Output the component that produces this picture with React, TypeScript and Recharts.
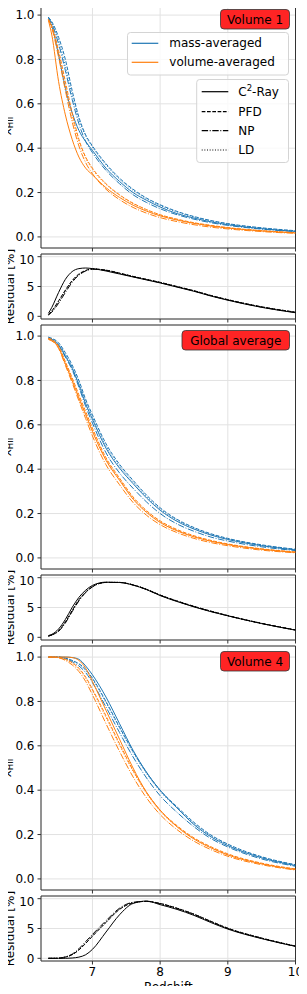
import { CartesianGrid, Line, LineChart, ReferenceArea, XAxis, YAxis } from "recharts";

// sampled redshifts shared by every curve
const redshift = [6.35, 6.4, 6.5, 6.6, 6.7, 6.8, 6.9, 7.0, 7.2, 7.4, 7.6, 7.8, 8.0, 8.25, 8.5, 8.75, 9.0, 9.5, 10.0];

// Volume 1
const v1MassC2 = [0.985, 0.95, 0.82, 0.67, 0.56, 0.48, 0.43, 0.39, 0.31, 0.25, 0.2, 0.165, 0.135, 0.105, 0.085, 0.068, 0.055, 0.037, 0.025];
const v1MassPFD = [0.99, 0.97, 0.9, 0.8, 0.66, 0.54, 0.46, 0.41, 0.33, 0.265, 0.215, 0.175, 0.145, 0.115, 0.092, 0.074, 0.06, 0.041, 0.028];
const v1MassNP = [0.99, 0.96, 0.87, 0.75, 0.62, 0.51, 0.43, 0.38, 0.3, 0.24, 0.19, 0.155, 0.127, 0.1, 0.08, 0.064, 0.052, 0.035, 0.024];
const v1MassLD = [0.99, 0.965, 0.885, 0.77, 0.64, 0.53, 0.455, 0.405, 0.325, 0.26, 0.21, 0.172, 0.142, 0.112, 0.09, 0.072, 0.059, 0.04, 0.027];
const v1VolC2 = [0.975, 0.91, 0.7, 0.55, 0.44, 0.36, 0.31, 0.28, 0.222, 0.178, 0.143, 0.116, 0.095, 0.076, 0.061, 0.049, 0.04, 0.027, 0.018];
const v1VolPFD = [0.98, 0.95, 0.84, 0.7, 0.56, 0.44, 0.36, 0.31, 0.24, 0.19, 0.152, 0.123, 0.1, 0.08, 0.064, 0.052, 0.042, 0.028, 0.019];
const v1VolNP = [0.98, 0.94, 0.81, 0.66, 0.52, 0.41, 0.335, 0.285, 0.215, 0.168, 0.133, 0.107, 0.087, 0.069, 0.055, 0.044, 0.036, 0.024, 0.016];
const v1VolLD = [0.98, 0.945, 0.83, 0.68, 0.54, 0.43, 0.355, 0.305, 0.237, 0.188, 0.15, 0.122, 0.099, 0.079, 0.063, 0.051, 0.041, 0.028, 0.019];
const r1C2 = [0.5, 1.5, 4.0, 6.2, 7.5, 8.0, 8.1, 8.0, 7.6, 7.1, 6.6, 6.1, 5.6, 4.9, 4.2, 3.4, 2.7, 1.5, 0.6];
const r1PFD = [0.3, 0.9, 2.6, 4.4, 6.0, 7.1, 7.7, 7.95, 7.75, 7.25, 6.7, 6.2, 5.7, 5.0, 4.3, 3.5, 2.8, 1.6, 0.7];
const r1NP = [0.2, 0.7, 2.2, 4.0, 5.7, 6.9, 7.6, 7.9, 7.7, 7.2, 6.65, 6.15, 5.65, 4.95, 4.25, 3.45, 2.75, 1.55, 0.65];
const r1LD = [0.3, 0.9, 2.5, 4.3, 5.9, 7.0, 7.65, 7.95, 7.72, 7.22, 6.68, 6.18, 5.68, 4.98, 4.28, 3.48, 2.78, 1.58, 0.68];

// Global average
const v2MassC2 = [0.99, 0.985, 0.96, 0.91, 0.855, 0.78, 0.695, 0.625, 0.495, 0.405, 0.335, 0.27, 0.215, 0.165, 0.13, 0.103, 0.083, 0.055, 0.036];
const v2MassPFD = [0.995, 0.99, 0.97, 0.925, 0.87, 0.8, 0.715, 0.645, 0.515, 0.422, 0.35, 0.283, 0.226, 0.174, 0.137, 0.109, 0.088, 0.059, 0.039];
const v2MassNP = [0.99, 0.984, 0.958, 0.905, 0.848, 0.77, 0.683, 0.608, 0.474, 0.383, 0.314, 0.252, 0.2, 0.153, 0.12, 0.094, 0.076, 0.05, 0.033];
const v2MassLD = [0.995, 0.988, 0.965, 0.918, 0.862, 0.79, 0.705, 0.635, 0.505, 0.414, 0.343, 0.277, 0.221, 0.17, 0.134, 0.106, 0.086, 0.057, 0.038];
const v2VolC2 = [0.985, 0.98, 0.948, 0.875, 0.8, 0.72, 0.645, 0.57, 0.44, 0.35, 0.265, 0.205, 0.16, 0.122, 0.095, 0.075, 0.06, 0.039, 0.025];
const v2VolPFD = [0.99, 0.985, 0.955, 0.885, 0.812, 0.735, 0.66, 0.585, 0.452, 0.36, 0.275, 0.213, 0.167, 0.128, 0.1, 0.079, 0.063, 0.041, 0.027];
const v2VolNP = [0.985, 0.978, 0.944, 0.868, 0.79, 0.708, 0.628, 0.55, 0.42, 0.33, 0.25, 0.192, 0.15, 0.114, 0.088, 0.069, 0.055, 0.035, 0.023];
const v2VolLD = [0.99, 0.983, 0.952, 0.88, 0.806, 0.728, 0.652, 0.578, 0.446, 0.355, 0.27, 0.209, 0.164, 0.125, 0.097, 0.077, 0.061, 0.04, 0.026];
const r2C2 = [0.3, 0.5, 1.4, 3.0, 5.0, 6.7, 7.9, 8.7, 9.25, 9.2, 8.75, 8.0, 7.0, 6.0, 5.1, 4.3, 3.6, 2.3, 1.2];
const r2PFD = [0.2, 0.4, 1.1, 2.6, 4.5, 6.3, 7.6, 8.5, 9.2, 9.2, 8.8, 8.05, 7.1, 6.1, 5.2, 4.4, 3.65, 2.35, 1.25];
const r2NP = [0.2, 0.4, 1.0, 2.4, 4.3, 6.1, 7.5, 8.45, 9.2, 9.2, 8.78, 8.02, 7.05, 6.05, 5.15, 4.35, 3.62, 2.32, 1.22];
const r2LD = [0.2, 0.4, 1.1, 2.55, 4.45, 6.25, 7.55, 8.5, 9.22, 9.22, 8.8, 8.04, 7.08, 6.08, 5.18, 4.38, 3.64, 2.34, 1.24];

// Volume 4
const v3MassC2 = [1.0, 1.0, 1.0, 1.0, 0.998, 0.99, 0.96, 0.92, 0.82, 0.7, 0.58, 0.48, 0.4, 0.32, 0.245, 0.19, 0.15, 0.095, 0.06];
const v3MassPFD = [1.0, 1.0, 1.0, 0.995, 0.985, 0.97, 0.945, 0.905, 0.8, 0.685, 0.575, 0.48, 0.4, 0.325, 0.255, 0.198, 0.157, 0.1, 0.064];
const v3MassNP = [1.0, 1.0, 1.0, 0.993, 0.98, 0.96, 0.93, 0.885, 0.775, 0.66, 0.55, 0.455, 0.375, 0.3, 0.235, 0.182, 0.144, 0.09, 0.057];
const v3MassLD = [1.0, 1.0, 1.0, 0.995, 0.985, 0.968, 0.94, 0.9, 0.795, 0.68, 0.57, 0.475, 0.395, 0.32, 0.25, 0.195, 0.155, 0.098, 0.063];
const v3VolC2 = [1.0, 1.0, 1.0, 1.0, 0.998, 0.985, 0.95, 0.89, 0.76, 0.63, 0.5, 0.39, 0.31, 0.235, 0.18, 0.14, 0.108, 0.068, 0.042];
const v3VolPFD = [1.0, 1.0, 0.998, 0.99, 0.975, 0.95, 0.91, 0.855, 0.735, 0.61, 0.49, 0.39, 0.31, 0.24, 0.185, 0.145, 0.113, 0.071, 0.045];
const v3VolNP = [1.0, 1.0, 0.997, 0.985, 0.965, 0.935, 0.89, 0.83, 0.7, 0.575, 0.46, 0.365, 0.29, 0.222, 0.17, 0.132, 0.102, 0.064, 0.04];
const v3VolLD = [1.0, 1.0, 0.998, 0.99, 0.973, 0.945, 0.905, 0.85, 0.728, 0.603, 0.485, 0.385, 0.305, 0.236, 0.182, 0.142, 0.11, 0.069, 0.044];
const r3C2 = [0, 0, 0, 0, 0.05, 0.2, 0.6, 1.5, 4.4, 7.3, 9.2, 9.6, 9.0, 8.2, 7.2, 6.0, 4.9, 3.3, 2.0];
const r3PFD = [0, 0, 0.02, 0.2, 0.6, 1.4, 2.5, 3.7, 6.0, 8.2, 9.3, 9.55, 9.2, 8.4, 7.4, 6.2, 5.05, 3.4, 2.05];
const r3NP = [0, 0, 0.02, 0.25, 0.7, 1.6, 2.8, 4.0, 6.3, 8.4, 9.4, 9.55, 9.15, 8.35, 7.35, 6.15, 5.0, 3.35, 2.0];
const r3LD = [0, 0, 0.02, 0.2, 0.6, 1.45, 2.55, 3.75, 6.05, 8.25, 9.3, 9.55, 9.2, 8.4, 7.4, 6.2, 5.05, 3.4, 2.05];

const xTicks = [7, 8, 9, 10];
const mainTicks = [0, 0.2, 0.4, 0.6, 0.8, 1.0];
const residTicks = [0, 5, 10];
const codeNames = ["C2-Ray", "PFD", "NP", "LD"];

const BLUE = "#1f77b4";
const ORANGE = "#ff7f0e";
const FONT = "DejaVu Sans";
const DASHES = [undefined, "3.7 1.6", "6.4 1.6 1 1.6", "1 1.65"];
const X_DOMAIN: [number, number] = [6.24, 10];
const MAIN_H = 244;
const RES_H = 65;
const RES_GAP = 250; // residual panel top, relative to main panel top

const panels = [
  { label: "Volume 1", labelW: 69, top: 4, mass: [v1MassC2, v1MassPFD, v1MassNP, v1MassLD], vol: [v1VolC2, v1VolPFD, v1VolNP, v1VolLD], res: [r1C2, r1PFD, r1NP, r1LD] },
  { label: "Global average", labelW: 107.5, top: 325, mass: [v2MassC2, v2MassPFD, v2MassNP, v2MassLD], vol: [v2VolC2, v2VolPFD, v2VolNP, v2VolLD], res: [r2C2, r2PFD, r2NP, r2LD] },
  { label: "Volume 4", labelW: 69, top: 646, mass: [v3MassC2, v3MassPFD, v3MassNP, v3MassLD], vol: [v3VolC2, v3VolPFD, v3VolNP, v3VolLD], res: [r3C2, r3PFD, r3NP, r3LD] },
];

const tickStyle = { fontSize: 12, fill: "#000", fontFamily: FONT };

function MainPanel({ panel }: { panel: (typeof panels)[number] }) {
  const rows = redshift.map((z, i) => {
    const r: Record<string, number> = { z };
    panel.mass.forEach((a, k) => (r[`m${k}`] = a[i]));
    panel.vol.forEach((a, k) => (r[`v${k}`] = a[i]));
    return r;
  });
  return (
    <div style={{ position: "absolute", left: 0, top: panel.top - 2 }}>
      <LineChart width={307} height={2 + MAIN_H + 6} data={rows} margin={{ top: 2, right: 11.5, left: 0, bottom: 0 }}>
        <CartesianGrid stroke="#e2e2e2" />
        <XAxis dataKey="z" type="number" domain={X_DOMAIN} ticks={xTicks} allowDataOverflow height={6} tickSize={3.5} axisLine={false} tickLine={{ stroke: "#333" }} tickFormatter={() => ""} />
        <YAxis type="number" domain={[-0.05, 1.05]} ticks={mainTicks} allowDataOverflow width={41} tickSize={3.5} tickMargin={3} axisLine={false} tickLine={{ stroke: "#333" }} tick={tickStyle} tickFormatter={(v: number) => v.toFixed(1)} />
        {DASHES.map((d, k) => (
          <Line key={`m${k}`} dataKey={`m${k}`} type="monotone" stroke={BLUE} strokeWidth={1} strokeDasharray={d} dot={false} isAnimationActive={false} />
        ))}
        {DASHES.map((d, k) => (
          <Line key={`v${k}`} dataKey={`v${k}`} type="monotone" stroke={ORANGE} strokeWidth={1} strokeDasharray={d} dot={false} isAnimationActive={false} />
        ))}
        <ReferenceArea x1={X_DOMAIN[0]} x2={X_DOMAIN[1]} y1={-0.05} y2={1.05} fill="none" stroke="#333" strokeWidth={1} ifOverflow="visible" />
      </LineChart>
    </div>
  );
}

function ResidPanel({ panel, last }: { panel: (typeof panels)[number]; last: boolean }) {
  const rows = redshift.map((z, i) => {
    const r: Record<string, number> = { z };
    panel.res.forEach((a, k) => (r[`r${k}`] = a[i]));
    return r;
  });
  const axisH = last ? 24 : 6;
  return (
    <div style={{ position: "absolute", left: 0, top: panel.top + RES_GAP - 2 }}>
      <LineChart width={307} height={2 + RES_H + axisH} data={rows} margin={{ top: 2, right: 11.5, left: 0, bottom: 0 }}>
        <CartesianGrid stroke="#e2e2e2" />
        <XAxis
          dataKey="z"
          type="number"
          domain={X_DOMAIN}
          ticks={xTicks}
          allowDataOverflow
          height={axisH}
          tickSize={3.5}
          tickMargin={3}
          axisLine={false}
          tickLine={{ stroke: "#333" }}
          tick={tickStyle}
          tickFormatter={last ? (v: number) => String(v) : () => ""}
        />
        <YAxis type="number" domain={[-0.45, 10.45]} ticks={residTicks} allowDataOverflow width={41} tickSize={3.5} tickMargin={3} axisLine={false} tickLine={{ stroke: "#333" }} tick={tickStyle} />
        {DASHES.map((d, k) => (
          <Line key={`r${k}`} dataKey={`r${k}`} type="monotone" stroke="#000" strokeWidth={1} strokeDasharray={d} dot={false} isAnimationActive={false} />
        ))}
        <ReferenceArea x1={X_DOMAIN[0]} x2={X_DOMAIN[1]} y1={-0.45} y2={10.45} fill="none" stroke="#333" strokeWidth={1} ifOverflow="visible" />
      </LineChart>
    </div>
  );
}

function Overlay() {
  const t = { fontSize: 12, fontFamily: FONT, fill: "#000" };
  const rowY = [91.7, 111.7, 130.7, 150];
  const baseY = [95.7, 115.9, 134.9, 154.2];
  return (
    <svg width={307} height={994} style={{ position: "absolute", left: 0, top: 0, pointerEvents: "none" }}>
      {panels.map((p) => {
        const y = p.top + 5.5;
        const x = 289.5 - p.labelW;
        const cyMain = p.top + MAIN_H / 2;
        const cyRes = p.top + RES_GAP + RES_H / 2;
        return (
          <g key={p.label}>
            <rect x={x} y={y} width={p.labelW} height={19.5} rx={3.5} fill="#ff2424" stroke="#333" strokeWidth={0.8} />
            <text x={x + p.labelW / 2} y={y + 14} textAnchor="middle" {...t}>
              {p.label}
            </text>
            <text x={10.5} y={cyMain} transform={`rotate(-90 10.5 ${cyMain})`} textAnchor="middle" {...t}>
              <tspan>{"x\u0304"}</tspan>
              <tspan dy={2.5} fontSize={8.5}>HII</tspan>
            </text>
            <text x={14} y={cyRes} transform={`rotate(-90 14 ${cyRes})`} textAnchor="middle" {...t}>
              Residual [%]
            </text>
          </g>
        );
      })}
      <text x={168.25} y={991} textAnchor="middle" {...t}>
        Redshift
      </text>
      <rect x={127.5} y={32.5} width={161} height={42.5} rx={3} fill="#fff" fillOpacity={0.8} stroke="#d4d4d4" />
      <line x1={131.7} x2={158.3} y1={43.3} y2={43.3} stroke={BLUE} strokeWidth={1.2} />
      <text x={169.3} y={46.8} {...t}>mass-averaged</text>
      <line x1={131.7} x2={158.3} y1={62.3} y2={62.3} stroke={ORANGE} strokeWidth={1.2} />
      <text x={169.3} y={65.8} {...t}>volume-averaged</text>
      <rect x={196.7} y={79.5} width={91.8} height={83} rx={3} fill="#fff" fillOpacity={0.8} stroke="#d4d4d4" />
      {codeNames.map((n, k) => (
        <g key={n}>
          <line x1={201.7} x2={228.3} y1={rowY[k]} y2={rowY[k]} stroke="#000" strokeWidth={1.2} strokeDasharray={DASHES[k]} />
          {k === 0 ? (
            <text x={238.3} y={baseY[k]} {...t}>
              <tspan>C</tspan>
              <tspan dy={-4.5} fontSize={8.5}>2</tspan>
              <tspan dy={4.5}>-Ray</tspan>
            </text>
          ) : (
            <text x={238.3} y={baseY[k]} {...t}>
              {n}
            </text>
          )}
        </g>
      ))}
    </svg>
  );
}

export default function App() {
  return (
    <div style={{ position: "relative", width: 307, height: 994, margin: -8, background: "#fff", overflow: "hidden" }}>
      {panels.map((p, i) => (
        <div key={p.label}>
          <MainPanel panel={p} />
          <ResidPanel panel={p} last={i === panels.length - 1} />
        </div>
      ))}
      <Overlay />
    </div>
  );
}
